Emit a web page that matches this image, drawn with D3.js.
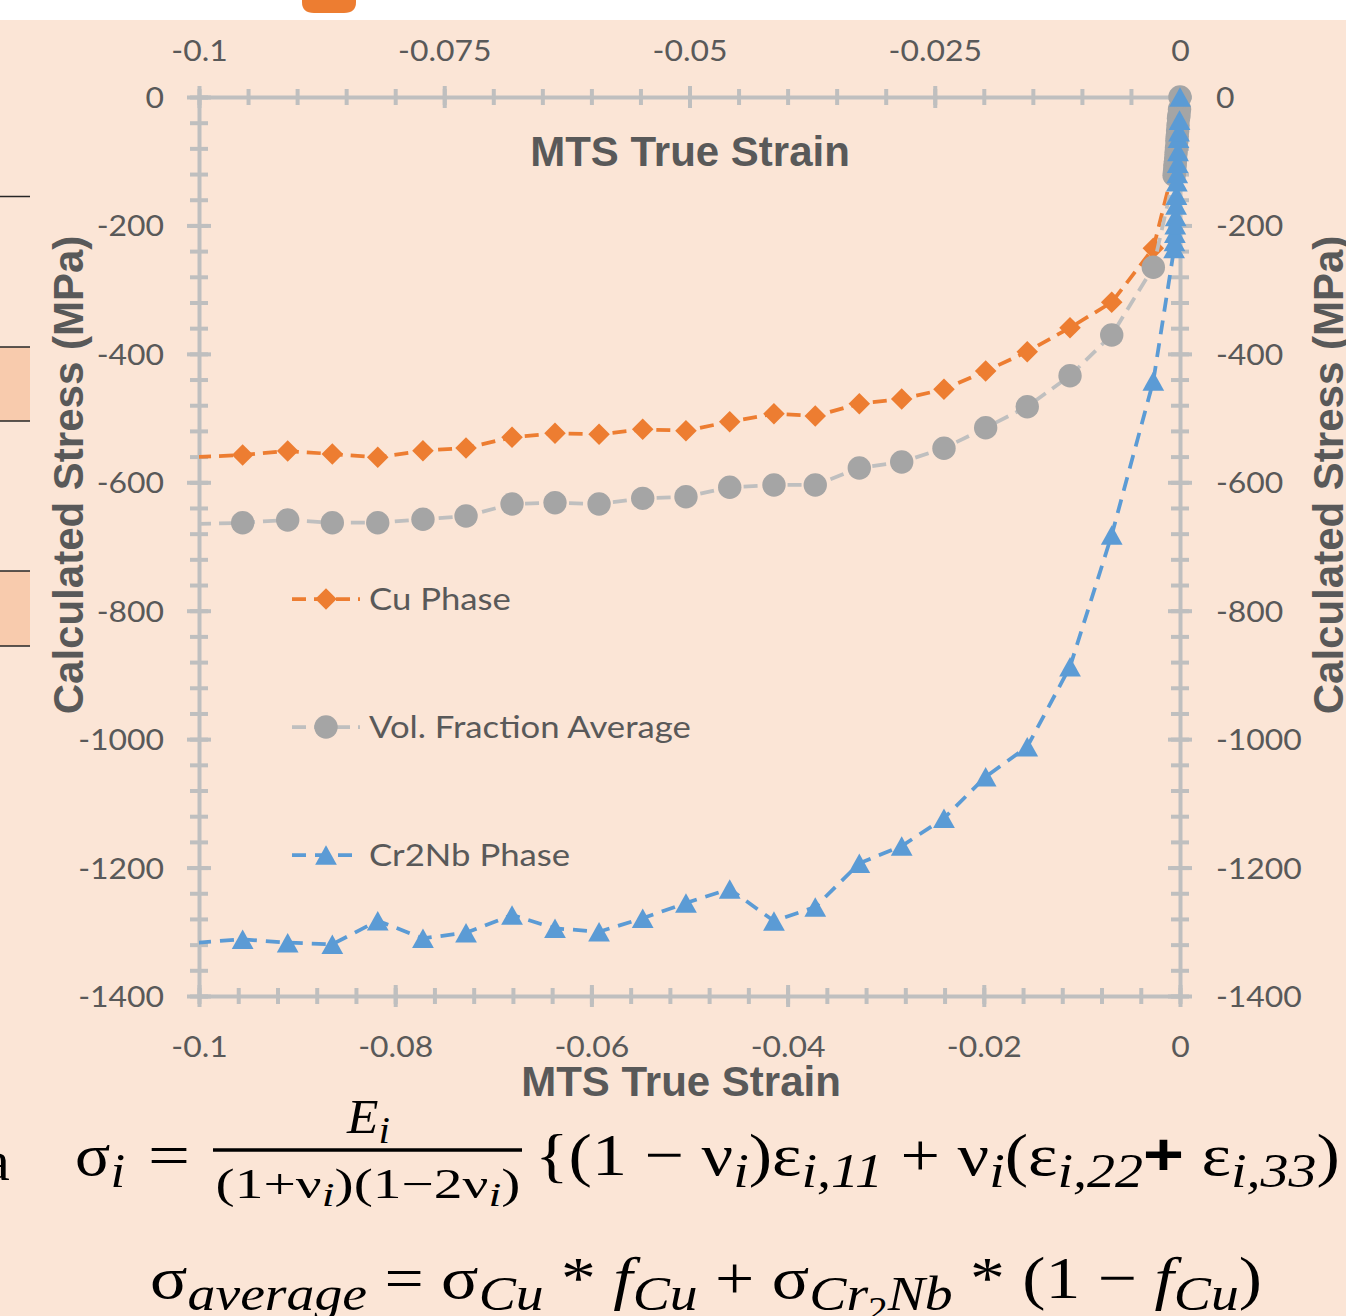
<!DOCTYPE html>
<html>
<head>
<meta charset="utf-8">
<script src="https://cdn.jsdelivr.net/npm/d3@7"></script>
<style>
  html, body { margin: 0; padding: 0; background: #fbe5d6; }
  svg { display: block; }
</style>
</head>
<body>
<svg id="chart" width="1346" height="1316"></svg>
<script>
// ---- data: MTS true strain vs. calculated stress (MPa) ----
const strain = [-0.1002, -0.09555, -0.09096, -0.08641, -0.08178, -0.07717, -0.07278, -0.06809,
  -0.06371, -0.05922, -0.05477, -0.05036, -0.04590, -0.04139, -0.03718, -0.03269, -0.02837,
  -0.02406, -0.01981, -0.01557, -0.01121, -0.00696, -0.00272,
  -0.00060, -0.00056, -0.00052, -0.00048, -0.00044, -0.00040, -0.00036, -0.00032, -0.00028,
  -0.00024, -0.00020, -0.00015, -0.00010, -0.00005, 0];
const cuPhase = [-560.6, -557.5, -551.3, -556.0, -561.1, -550.8, -546.6, -529.9, -523.7, -525.3,
  -517.5, -519.7, -505.7, -493.2, -496.8, -477.6, -470.3, -455.2, -426.7, -396.6, -359.3, -319.7,
  -235.6, -106, -100, -95, -89, -83, -75, -68, -59, -53, -46, -38, -29, -24, -16, 0];
const volAverage = [-665, -663.0, -658.7, -663.0, -663.0, -657.6, -652.5, -633.8, -631.8, -633.8,
  -625.0, -622.5, -607.8, -604.2, -604.2, -577.8, -568.4, -547.1, -515.0, -482.3, -434.0, -370.6,
  -265.2, -122, -116, -109, -103, -96, -87, -79, -68, -61, -53, -44, -33, -28, -19, 0];
const cr2nbPhase = [-1317, -1311.7, -1317.0, -1319.5, -1282.8, -1310.2, -1301.4, -1273.9, -1294.6,
  -1299.9, -1279.0, -1255.2, -1233.4, -1283.2, -1261.4, -1193.4, -1166.4, -1123.3, -1058.5,
  -1011.8, -887.2, -682.1, -442.3, -236, -225, -212, -199, -186, -168, -153, -132, -119, -103,
  -85, -64, -54, -36, 0];

const seriesNames = ["Cu Phase", "Vol. Fraction Average", "Cr2Nb Phase"];
const bottomTicks = [-0.1, -0.08, -0.06, -0.04, -0.02, 0];
const bottomTickLabels = ["-0.1", "-0.08", "-0.06", "-0.04", "-0.02", "0"];
const topTicks = [-0.1, -0.075, -0.05, -0.025, 0];
const topTickLabels = ["-0.1", "-0.075", "-0.05", "-0.025", "0"];
const stressTicks = [0, -200, -400, -600, -800, -1000, -1200, -1400];
const stressTickLabels = ["0", "-200", "-400", "-600", "-800", "-1000", "-1200", "-1400"];
const axisTitleX = "MTS True Strain";
const axisTitleY = "Calculated Stress (MPa)";

// ---- layout ----
const svg = d3.select("#chart");
const W = 1346, H = 1316;
const plot = { left: 199, right: 1180, top: 97, bottom: 996 };
const x = d3.scaleLinear().domain([-0.1, 0]).range([plot.left, plot.right]);
const y = d3.scaleLinear().domain([-1400, 0]).range([plot.bottom, plot.top]);

const AXIS = "#bfbfbf", TEXT = "#595959";
const tickFont = "Lato, 'Open Sans', sans-serif";
const stretch = 1.1;

// background and surrounding slide pieces
svg.append("rect").attr("width", W).attr("height", H).attr("fill", "#fbe5d6");
svg.append("rect").attr("width", W).attr("height", 20).attr("fill", "#ffffff");
svg.append("path").attr("d", "M302,0 H356 V2 Q356,13 344,13 H314 Q302,13 302,2 Z").attr("fill", "#ed7d31");
svg.append("line").attr("x1", 0).attr("x2", 30).attr("y1", 196.5).attr("y2", 196.5)
  .attr("stroke", "#262626").attr("stroke-width", 1.5);
[[347, 421], [571, 646]].forEach(([t, b]) => {
  svg.append("rect").attr("x", 0).attr("y", t).attr("width", 30).attr("height", b - t).attr("fill", "#f8cbad");
  [t, b].forEach(v => svg.append("line").attr("x1", 0).attr("x2", 30).attr("y1", v).attr("y2", v)
    .attr("stroke", "#262626").attr("stroke-width", 1.5));
});

// ---- axes with crossing tick marks ----
function styleAxis(g) {
  g.selectAll("line, path").attr("stroke", AXIS).attr("stroke-width", 4).attr("stroke-linecap", "butt");
}
function range(a, b, step) {
  const n = Math.round((b - a) / step);
  return d3.range(n + 1).map(i => +(a + i * step).toFixed(6));
}
function horizontalAxis(yPos, majors, minors, majHalf, minHalf) {
  const g = svg.append("g").attr("transform", `translate(0,${yPos})`);
  g.append("g").call(d3.axisBottom(x).tickValues(minors).tickSize(minHalf).tickFormat(""))
    .call(a => a.select(".domain").remove())
    .selectAll(".tick line").attr("y1", -minHalf);
  g.append("g").call(d3.axisBottom(x).tickValues(majors).tickSize(majHalf).tickSizeOuter(0).tickFormat(""))
    .selectAll(".tick line").attr("y1", -majHalf);
  styleAxis(g);
}
function verticalAxis(xPos, majors, minors, majHalf, minHalf) {
  const g = svg.append("g").attr("transform", `translate(${xPos},0)`);
  g.append("g").call(d3.axisLeft(y).tickValues(minors).tickSize(minHalf).tickFormat(""))
    .call(a => a.select(".domain").remove())
    .selectAll(".tick line").attr("x1", minHalf);
  g.append("g").call(d3.axisLeft(y).tickValues(majors).tickSize(majHalf).tickSizeOuter(0).tickFormat(""))
    .selectAll(".tick line").attr("x1", majHalf);
  styleAxis(g);
}
horizontalAxis(plot.bottom, bottomTicks, range(-0.1, 0, 0.004), 11, 8);
horizontalAxis(plot.top, topTicks, range(-0.1, 0, 0.005), 11, 8);
verticalAxis(plot.left, stressTicks, range(-1400, 0, 40), 12, 9);
verticalAxis(plot.right, stressTicks, range(-1400, 0, 40), 12, 9);

// tick labels
function labelAxis(axis, transform, labels, ticks, textAttrs) {
  const g = svg.append("g").attr("transform", transform)
    .call(axis.tickValues(ticks).tickSize(0).tickFormat((d, i) => labels[i]));
  g.select(".domain").remove();
  const t = g.selectAll("text").attr("font-family", tickFont).attr("font-size", 29)
    .attr("fill", TEXT).attr("transform", `scale(${stretch},1)`);
  Object.entries(textAttrs).forEach(([k, v]) => t.attr(k, v));
}
labelAxis(d3.axisBottom(x), `translate(0,${plot.bottom})`, bottomTickLabels, bottomTicks,
  { y: 61, dy: null });
labelAxis(d3.axisTop(x), `translate(0,${plot.top})`, topTickLabels, topTicks,
  { y: -36, dy: null });
labelAxis(d3.axisLeft(y), `translate(${plot.left},0)`, stressTickLabels, stressTicks,
  { x: -35 / stretch, dy: "0.36em" });
labelAxis(d3.axisRight(y), `translate(${plot.right},0)`, stressTickLabels, stressTicks,
  { x: 36 / stretch, dy: "0.36em" });

// axis titles
const titleFont = "'Liberation Sans', Arial, sans-serif";
function title(text, tx, ty, rot) {
  svg.append("text").attr("transform", `translate(${tx},${ty}) rotate(${rot})`)
    .attr("text-anchor", "middle").attr("font-family", titleFont).attr("font-weight", "bold")
    .attr("font-size", 42).attr("fill", TEXT).text(text);
}
title(axisTitleX, 690, 166, 0);
title(axisTitleX, 681, 1096, 0);
title(axisTitleY, 83, 475, -90);
title(axisTitleY, 1343, 475, -90);

// ---- series ----
const diamond = { draw(ctx, size) { const h = Math.sqrt(size / 2);
  ctx.moveTo(0, -h); ctx.lineTo(h, 0); ctx.lineTo(0, h); ctx.lineTo(-h, 0); ctx.closePath(); } };
const triangle = { draw(ctx, size) { const a = Math.sqrt(size * 2.2), hh = a * 0.9;
  ctx.moveTo(0, -hh / 2); ctx.lineTo(a / 2, hh / 2); ctx.lineTo(-a / 2, hh / 2); ctx.closePath(); } };

const series = [
  { name: seriesNames[0], values: cuPhase, color: "#ed7d31", lineColor: "#ed7d31", dash: "14 8", symbol: diamond, size: 232 },
  { name: seriesNames[1], values: volAverage, color: "#a5a5a5", lineColor: "#bfbfbf", dash: "14 8", symbol: d3.symbolCircle, size: 430 },
  { name: seriesNames[2], values: cr2nbPhase, color: "#5b9bd5", lineColor: "#5b9bd5", dash: "14 9", symbol: triangle, size: 215 }
];

svg.append("clipPath").attr("id", "plot-clip").append("rect")
  .attr("x", plot.left).attr("y", plot.top - 10).attr("width", plot.right - plot.left + 10)
  .attr("height", plot.bottom - plot.top + 10);

const line = d3.line().x(d => x(d[0])).y(d => y(d[1]));
series.forEach(s => {
  const pts = strain.map((e, i) => [e, s.values[i]]);
  const g = svg.append("g");
  g.append("path").attr("d", line(pts)).attr("fill", "none").attr("stroke", s.lineColor)
    .attr("stroke-width", 3.75).attr("stroke-dasharray", s.dash).attr("clip-path", "url(#plot-clip)");
  g.selectAll("path.mark").data(pts.filter(d => d[0] >= -0.1)).join("path").attr("class", "mark")
    .attr("transform", d => `translate(${x(d[0])},${y(d[1])})`)
    .attr("d", d3.symbol(s.symbol, s.size)).attr("fill", s.color);
});

// ---- legend ----
const legendY = [599, 727, 855];
series.forEach((s, i) => {
  const g = svg.append("g").attr("transform", `translate(0,${legendY[i]})`);
  g.append("line").attr("x1", 292).attr("x2", 360).attr("stroke", s.lineColor).attr("stroke-width", 3.75)
    .attr("stroke-dasharray", s.dash);
  g.append("path").attr("transform", "translate(326,0)").attr("d", d3.symbol(s.symbol, s.size)).attr("fill", s.color);
  g.append("text").attr("transform", "translate(369,0) scale(1.12,1)").attr("dy", "0.36em")
    .attr("font-family", tickFont).attr("font-size", 31).attr("fill", TEXT).text(s.name);
});

// ---- formulas ----
const serif = "'Liberation Serif', 'DejaVu Serif', serif";
function formula(x0, y0, size, parts, targetWidth, anchor) {
  const t = svg.append("text").attr("x", x0).attr("y", y0).attr("font-family", serif)
    .attr("font-size", size).attr("fill", "#000").attr("text-anchor", anchor || "start");
  let shift = 0;
  parts.forEach(([txt, kind]) => {
    const sub = kind === "s" ? 0.2 * size : kind === "ss" ? 0.36 * size : 0;
    const fs = kind === "s" ? 0.8 * size : kind === "ss" ? 0.56 * size : size;
    const sp = t.append("tspan").attr("dy", sub - shift).attr("font-size", fs).text(txt);
    if (kind === "s" || kind === "i") sp.attr("font-style", "italic");
    if (kind === "b") sp.attr("font-weight", "bold").attr("font-family", "'Liberation Sans', sans-serif");
    shift = sub;
  });
  if (targetWidth) {
    const bb = t.node().getBBox();
    const sx = targetWidth / bb.width;
    const ax = anchor === "middle" ? bb.x + bb.width / 2 : bb.x;
    t.attr("transform", `translate(${x0},0) scale(${sx},1) translate(${-ax},0)`);
  }
  return t;
}
// σ_i = E_i / ((1+ν_i)(1−2ν_i)) {(1 − ν_i)ε_i,11 + ν_i(ε_i,22 + ε_i,33)
formula(75, 1175, 60, [["σ", "n"], ["i", "s"]], 50);
formula(148, 1175, 60, [["=", "n"]], 42);
formula(368, 1133, 48, [["E", "i"], ["i", "s"]], 44, "middle");
svg.append("line").attr("x1", 213).attr("x2", 522).attr("y1", 1150).attr("y2", 1150)
  .attr("stroke", "#000").attr("stroke-width", 3.5);
formula(368, 1198, 42, [["(1+ν", "n"], ["i", "s"], [")(1−2ν", "n"], ["i", "s"], [")", "n"]], 305, "middle");
formula(535, 1175, 60, [["{(1 − ν", "n"], ["i", "s"], [")ε", "n"], ["i,11", "s"], [" + ν", "n"], ["i", "s"],
  ["(ε", "n"], ["i,22", "s"], ["+", "b"], [" ε", "n"], ["i,33", "s"], [")", "n"]], 805);
// σ_average = σ_Cu * f_Cu + σ_Cr2Nb * (1 − f_Cu)
formula(150, 1298, 60, [["σ", "n"], ["average", "s"], [" = σ", "n"], ["Cu", "s"], [" * ", "n"], ["f", "i"],
  ["Cu", "s"], [" + σ", "n"], ["Cr", "s"], ["2", "ss"], ["Nb", "s"], [" * (1 − ", "n"], ["f", "i"],
  ["Cu", "s"], [")", "n"]], 1112);
svg.append("text").attr("x", -16).attr("y", 1180).attr("font-family", serif).attr("font-size", 58).text("a");
</script>
</body>
</html>
